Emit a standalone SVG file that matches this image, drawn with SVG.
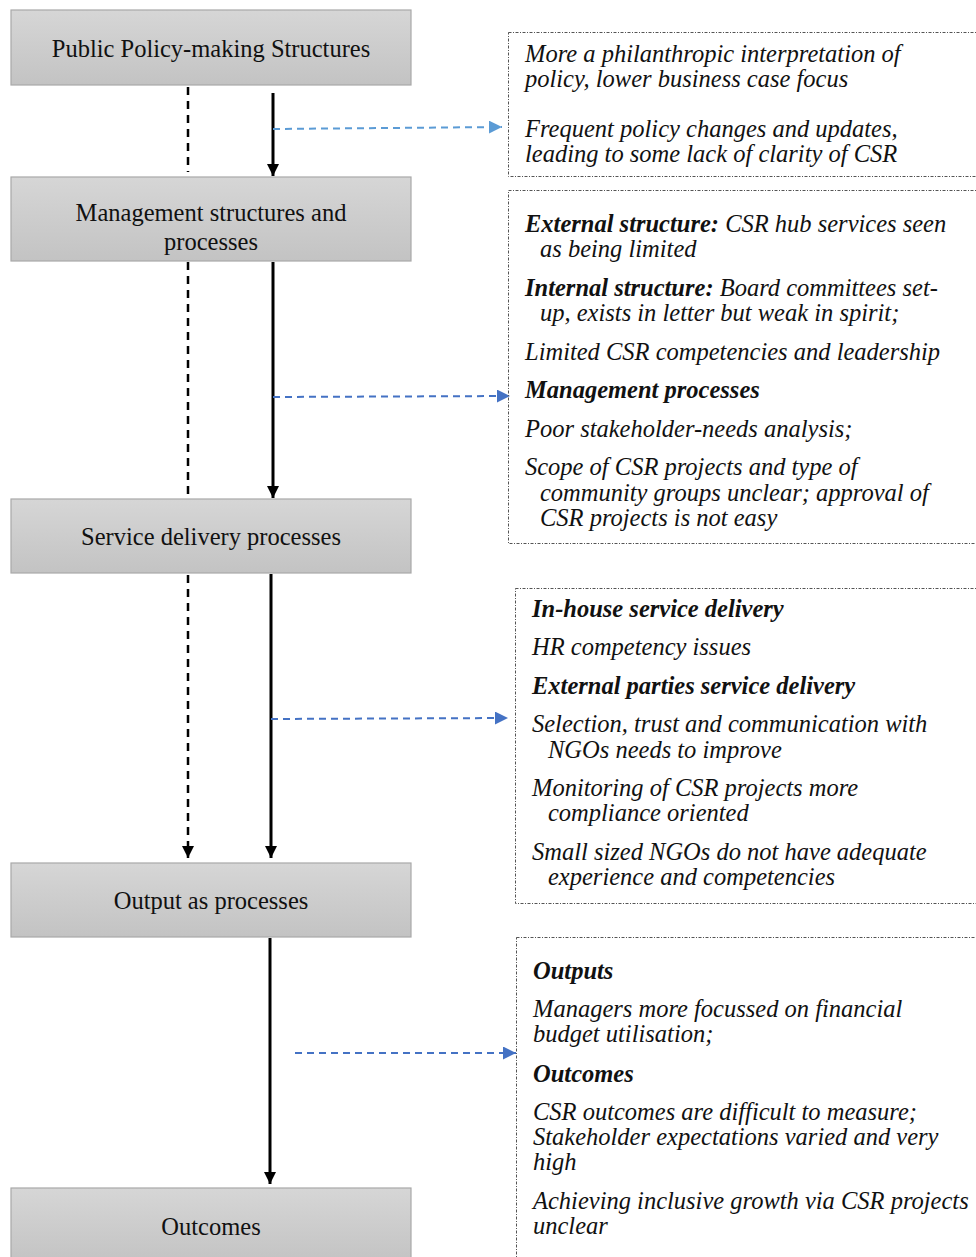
<svg xmlns="http://www.w3.org/2000/svg" width="976" height="1257" viewBox="0 0 976 1257">
<defs>
<linearGradient id="g" x1="0" y1="0" x2="0" y2="1"><stop offset="0" stop-color="#d6d6d6"/><stop offset="1" stop-color="#c3c3c3"/></linearGradient>
<marker id="ab" viewBox="0 0 10 10" refX="10" refY="5" markerWidth="12" markerHeight="12" markerUnits="userSpaceOnUse" orient="auto"><path d="M0,0 L10,5 L0,10 z" fill="#000"/></marker>
<marker id="abl" viewBox="0 0 10 10" refX="10" refY="5" markerWidth="13" markerHeight="13" markerUnits="userSpaceOnUse" orient="auto"><path d="M0,0 L10,5 L0,10 z" fill="#4472c4"/></marker>
<marker id="abl2" viewBox="0 0 10 10" refX="10" refY="5" markerWidth="13" markerHeight="13" markerUnits="userSpaceOnUse" orient="auto"><path d="M0,0 L10,5 L0,10 z" fill="#5b9bd5"/></marker>
</defs>
<style>
.box{fill:url(#g);stroke:#a8a8a8;stroke-width:1.2}
.lbl{font-family:"Liberation Serif",serif;font-size:24.5px;fill:#111;text-anchor:middle}
.note{fill:none;stroke:#555;stroke-width:1;stroke-dasharray:3 1.5 1 1.5}
.t{font-family:"Liberation Serif",serif;font-size:24.5px;font-style:italic;fill:#111}
.b{font-weight:bold}
.solid{stroke:#000;stroke-width:3;fill:none;marker-end:url(#ab)}
.dash{stroke:#000;stroke-width:2.5;stroke-dasharray:8 6;fill:none}
.blue{stroke:#4472c4;stroke-width:2;stroke-dasharray:7 5;fill:none;marker-end:url(#abl)}
</style>
<rect width="976" height="1257" fill="#fff"/>
<g id="connectors">
<line class="dash" x1="188" y1="87" x2="188" y2="172"/>
<line class="dash" x1="188" y1="262" x2="188" y2="498"/>
<line class="dash" x1="188" y1="575" x2="188" y2="858" marker-end="url(#ab)"/>
<line class="solid" x1="273" y1="93" x2="273" y2="176"/>
<line class="solid" x1="273" y1="262" x2="273" y2="498"/>
<line class="solid" x1="271" y1="574" x2="271" y2="858"/>
<line class="solid" x1="270" y1="938" x2="270" y2="1184"/>
<line class="blue" x1="273" y1="129" x2="502" y2="127" style="stroke:#5b9bd5;marker-end:url(#abl2)"/>
<line class="blue" x1="273" y1="397" x2="510" y2="396"/>
<line class="blue" x1="271" y1="719" x2="508" y2="718"/>
<line class="blue" x1="295" y1="1053" x2="516" y2="1053"/>
</g>
<g id="n1"><rect class="box" x="11" y="10" width="400" height="75"/><text class="lbl" x="211" y="57">Public Policy-making Structures</text></g>
<g id="n2"><rect class="box" x="11" y="177" width="400" height="84"/><text class="lbl" x="211" y="221">Management structures and</text><text class="lbl" x="211" y="250">processes</text></g>
<g id="n3"><rect class="box" x="11" y="499" width="400" height="74"/><text class="lbl" x="211" y="545">Service delivery processes</text></g>
<g id="n4"><rect class="box" x="11" y="863" width="400" height="74"/><text class="lbl" x="211" y="909">Output as processes</text></g>
<g id="n5"><rect class="box" x="11" y="1188" width="400" height="75"/><text class="lbl" x="211" y="1235">Outcomes</text></g>
<g id="noteA"><rect class="note" x="508.5" y="32.5" width="480" height="144"/>
<text class="t" x="525" y="62">More a philanthropic interpretation of</text>
<text class="t" x="525" y="87">policy, lower business case focus</text>
<text class="t" x="525" y="137">Frequent policy changes and updates,</text>
<text class="t" x="525" y="162">leading to some lack of clarity of CSR</text>
</g>
<g id="noteB"><rect class="note" x="508.5" y="190.5" width="480" height="353"/>
<text class="t" x="525" y="232"><tspan class="b">External structure:</tspan> CSR hub services seen</text>
<text class="t" x="540" y="257">as being limited</text>
<text class="t" x="525" y="296"><tspan class="b">Internal structure:</tspan> Board committees set-</text>
<text class="t" x="540" y="321">up, exists in letter but weak in spirit;</text>
<text class="t" x="525" y="360">Limited CSR competencies and leadership</text>
<text class="t b" x="525" y="398">Management processes</text>
<text class="t" x="525" y="437">Poor stakeholder-needs analysis;</text>
<text class="t" x="525" y="475">Scope of CSR projects and type of</text>
<text class="t" x="540" y="501">community groups unclear; approval of</text>
<text class="t" x="540" y="526">CSR projects is not easy</text>
</g>
<g id="noteC"><rect class="note" x="515.5" y="588.5" width="480" height="315"/>
<text class="t b" x="532" y="617">In-house service delivery</text>
<text class="t" x="532" y="655">HR competency issues</text>
<text class="t b" x="532" y="694">External parties service delivery</text>
<text class="t" x="532" y="732">Selection, trust and communication with</text>
<text class="t" x="548" y="758">NGOs needs to improve</text>
<text class="t" x="532" y="796">Monitoring of CSR projects more</text>
<text class="t" x="548" y="821">compliance oriented</text>
<text class="t" x="532" y="860">Small sized NGOs do not have adequate</text>
<text class="t" x="548" y="885">experience and competencies</text>
</g>
<g id="noteD"><rect class="note" x="516.5" y="937.5" width="480" height="340"/>
<text class="t b" x="533" y="979">Outputs</text>
<text class="t" x="533" y="1017">Managers more focussed on financial</text>
<text class="t" x="533" y="1042">budget utilisation;</text>
<text class="t b" x="533" y="1082">Outcomes</text>
<text class="t" x="533" y="1120">CSR outcomes are difficult to measure;</text>
<text class="t" x="533" y="1145">Stakeholder expectations varied and very</text>
<text class="t" x="533" y="1170">high</text>
<text class="t" x="533" y="1209">Achieving inclusive growth via CSR projects</text>
<text class="t" x="533" y="1234">unclear</text>
</g>
</svg>
